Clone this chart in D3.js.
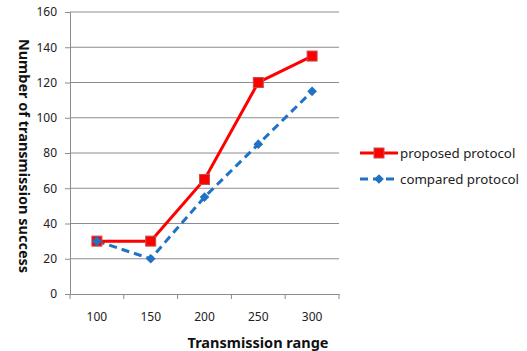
<!DOCTYPE html>
<html>
<head>
<meta charset="utf-8">
<script src="https://cdn.jsdelivr.net/npm/d3@7"></script>
<style>
  body { margin: 0; background: #fff; }
  text { font-family: "Noto Sans", "DejaVu Sans", sans-serif; }
</style>
</head>
<body>
<svg id="chart" width="527" height="351"></svg>
<script>
const ranges = ["100", "150", "200", "250", "300"];
const proposed = [30, 30, 65, 120, 135];
const compared = [30, 20, 55, 85, 115];
const yTicks = [0, 20, 40, 60, 80, 100, 120, 140, 160];

const svg = d3.select("#chart");
const plotLeft = 70, plotRight = 339, plotTop = 12, plotBottom = 294;

const x = d3.scaleBand().domain(ranges).range([plotLeft, plotRight]);
const y = d3.scaleLinear().domain([0, 160]).range([plotBottom, plotTop]);

// gridlines
svg.append("g")
    .selectAll("line")
    .data(yTicks.filter(d => d > 0))
    .enter()
    .append("line")
    .attr("x1", plotLeft)
    .attr("x2", plotRight)
    .attr("y1", d => y(d))
    .attr("y2", d => y(d))
    .attr("stroke", "#8c8c8c")
    .attr("stroke-width", 1);

// y axis
const yAxis = svg.append("g")
    .attr("transform", "translate(" + plotLeft + ",0)")
    .call(d3.axisLeft(y).tickValues(yTicks).tickSize(5).tickPadding(8));
yAxis.select(".domain").attr("stroke", "#8c8c8c");
yAxis.selectAll(".tick line").attr("stroke", "#8c8c8c");
yAxis.selectAll("text").attr("font-size", 12).attr("fill", "#222");

// x axis
const xAxis = svg.append("g")
    .attr("transform", "translate(0," + plotBottom + ")")
    .call(d3.axisBottom(x).tickSize(0).tickPadding(18));
xAxis.select(".domain").attr("stroke", "#8c8c8c");
xAxis.selectAll("text").attr("font-size", 12).attr("fill", "#222");
xAxis.selectAll(".bound")
    .data(d3.range(ranges.length + 1))
    .enter()
    .append("line")
    .attr("x1", i => plotLeft + i * x.bandwidth())
    .attr("x2", i => plotLeft + i * x.bandwidth())
    .attr("y1", 0)
    .attr("y2", 5)
    .attr("stroke", "#8c8c8c");

const cx = (d, i) => x(ranges[i]) + x.bandwidth() / 2;
const line = d3.line().x(cx).y(d => y(d));

// compared protocol
svg.append("path")
    .datum(compared)
    .attr("d", line)
    .attr("fill", "none")
    .attr("stroke", "#1f72c4")
    .attr("stroke-width", 3)
    .attr("stroke-dasharray", "8,5");

// proposed protocol
svg.append("path")
    .datum(proposed)
    .attr("d", line)
    .attr("fill", "none")
    .attr("stroke", "#ff0000")
    .attr("stroke-width", 3);

svg.append("g")
    .selectAll("rect")
    .data(proposed)
    .enter()
    .append("rect")
    .attr("x", (d, i) => cx(d, i) - 5)
    .attr("y", d => y(d) - 5)
    .attr("width", 10)
    .attr("height", 10)
    .attr("fill", "#ff0000")
    .attr("stroke", "#c0504d")
    .attr("stroke-width", 1);

const diamond = d3.symbol().type(d3.symbolDiamond2).size(60);
svg.append("g")
    .selectAll("path")
    .data(compared)
    .enter()
    .append("path")
    .attr("d", diamond)
    .attr("transform", (d, i) => "translate(" + cx(d, i) + "," + y(d) + ")")
    .attr("fill", "#1f72c4");

// axis titles
svg.append("text")
    .text("Number of transmission success")
    .attr("transform", "translate(19,156) rotate(90)")
    .attr("text-anchor", "middle")
    .attr("font-size", 14.5)
    .attr("font-weight", "bold")
    .attr("fill", "#111");

svg.append("text")
    .text("Transmission range")
    .attr("x", 258)
    .attr("y", 348)
    .attr("text-anchor", "middle")
    .attr("font-size", 14.5)
    .attr("font-weight", "bold")
    .attr("fill", "#111");

// legend
const legend = [
    { name: "proposed protocol", color: "#ff0000", dash: null, shape: "square" },
    { name: "compared protocol", color: "#1f72c4", dash: "8,5", shape: "diamond" }
];
const items = svg.append("g")
    .selectAll("g")
    .data(legend)
    .enter()
    .append("g")
    .attr("transform", (d, i) => "translate(360," + (153 + i * 26) + ")");

items.append("line")
    .attr("x1", 0)
    .attr("x2", 38)
    .attr("stroke", d => d.color)
    .attr("stroke-width", 3)
    .attr("stroke-dasharray", d => d.dash);

items.each(function (d) {
    const g = d3.select(this);
    if (d.shape === "square") {
        g.append("rect").attr("x", 14).attr("y", -5).attr("width", 10).attr("height", 10)
            .attr("fill", d.color).attr("stroke", "#c0504d");
    } else {
        g.append("path").attr("d", diamond).attr("transform", "translate(19,0)").attr("fill", d.color);
    }
});

items.append("text")
    .text(d => d.name)
    .attr("x", 40)
    .attr("y", 4.5)
    .attr("font-size", 13.3)
    .attr("fill", "#222");
</script>
</body>
</html>
